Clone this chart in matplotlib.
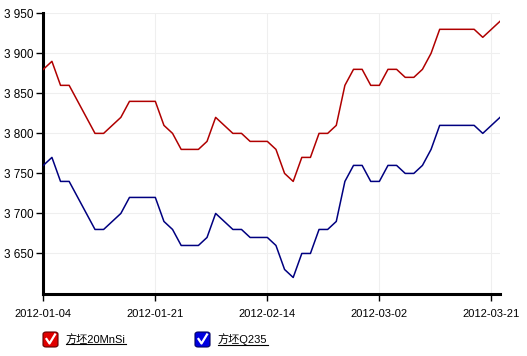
import matplotlib
matplotlib.use("Agg")
import matplotlib.pyplot as plt
from matplotlib.patches import FancyBboxPatch
from matplotlib.lines import Line2D
from matplotlib.ticker import FuncFormatter

plt.rcParams['font.family'] = ['Liberation Sans', 'Noto Sans CJK SC', 'DejaVu Sans']

# ---- data ----
series_names = ['方坯20MnSi', '方坯Q235']
red_vals = [3880, 3890, 3860, 3860, 3840, 3820, 3800, 3800, 3810, 3820,
            3840, 3840, 3840, 3840, 3810, 3800, 3780, 3780, 3780, 3790,
            3820, 3810, 3800, 3800, 3790, 3790, 3790, 3780, 3750, 3740,
            3770, 3770, 3800, 3800, 3810, 3860, 3880, 3880, 3860, 3860,
            3880, 3880, 3870, 3870, 3880, 3900, 3930, 3930, 3930, 3930,
            3930, 3920, 3930, 3940]
blue_vals = [3760, 3770, 3740, 3740, 3720, 3700, 3680, 3680, 3690, 3700,
             3720, 3720, 3720, 3720, 3690, 3680, 3660, 3660, 3660, 3670,
             3700, 3690, 3680, 3680, 3670, 3670, 3670, 3660, 3630, 3620,
             3650, 3650, 3680, 3680, 3690, 3740, 3760, 3760, 3740, 3740,
             3760, 3760, 3750, 3750, 3760, 3780, 3810, 3810, 3810, 3810,
             3810, 3800, 3810, 3820]
xtick_labels = ['2012-01-04', '2012-01-21', '2012-02-14', '2012-03-02', '2012-03-21']
xtick_step = 13
yticks = [3650, 3700, 3750, 3800, 3850, 3900, 3950]
y_min, y_max = 3600, 3950

line_colors = ['#b00000', '#000080']
box_colors = ['#e00000', '#0000e0']

W, H = 527, 356
fig = plt.figure(figsize=(W / 100, H / 100), dpi=100)
ax = fig.add_axes([43.3 / W, 1 - 293.5 / H, (500 - 43.3) / W, (293.5 - 13.3) / H])

x = list(range(len(red_vals)))
ax.plot(x, red_vals, color=line_colors[0], lw=1.1, zorder=3)
ax.plot(x, blue_vals, color=line_colors[1], lw=1.1, zorder=3)

ax.set_xlim(0, len(red_vals) - 1)
ax.set_ylim(y_min, y_max)

xt = [i * xtick_step for i in range(len(xtick_labels))]
ax.set_xticks(xt)
ax.set_xticklabels(xtick_labels, fontsize=8)
ax.set_yticks(yticks)
ax.yaxis.set_major_formatter(FuncFormatter(lambda v, p: f"{int(v):,}".replace(",", " ")))
for lab in ax.get_yticklabels():
    lab.set_fontsize(8.5)

ax.grid(True, color='#efefef', lw=0.8, zorder=0)
# small dots at grid intersections
for xv in xt[1:]:
    ax.scatter([xv] * len(yticks), yticks, s=1.2, color='#888888', zorder=1, linewidths=0)

for s in ['top', 'right']:
    ax.spines[s].set_visible(False)
ax.spines['left'].set_linewidth(2.2)
ax.spines['bottom'].set_linewidth(2.2)
ax.tick_params(axis='both', direction='out', length=5, width=1, colors='black', pad=3)
ax.tick_params(axis='x', pad=6)
ax.tick_params(axis='y', pad=2)

# ---- legend (checkbox style) ----
fig.canvas.draw()
renderer = fig.canvas.get_renderer()
legend_x = [43, 195]
box = 15
ly = H - 347  # bottom of box in pixels from bottom
for name, bc, lx in zip(series_names, box_colors, legend_x):
    p = FancyBboxPatch((lx / W, ly / H), box / W, box / H,
                       boxstyle="round,pad=0,rounding_size=0.006",
                       transform=fig.transFigure, facecolor=bc,
                       edgecolor='#600000' if bc == box_colors[0] else '#000060',
                       lw=0.8)
    fig.patches.append(p)
    ck = Line2D([(lx + 3.5) / W, (lx + 6.5) / W, (lx + 12) / W],
                [(ly + 8) / H, (ly + 3.5) / H, (ly + 12.5) / H],
                transform=fig.transFigure, color='white', lw=1.6)
    fig.lines.append(ck)
    t = fig.text((lx + 23) / W, (ly + 7.5) / H, name, fontsize=8, va='center', ha='left')
    fig.canvas.draw()
    bb = t.get_window_extent(renderer)
    ul = Line2D([bb.x0 / W, bb.x1 / W], [(bb.y0 + 0.5) / H, (bb.y0 + 0.5) / H],
                transform=fig.transFigure, color='black', lw=0.8)
    fig.lines.append(ul)

fig.savefig('out.png', dpi=100)
